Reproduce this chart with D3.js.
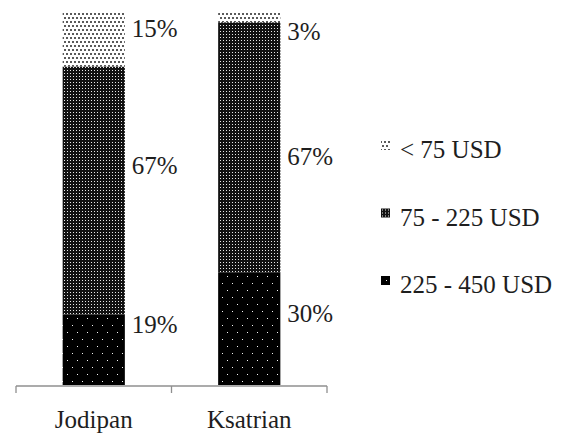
<!DOCTYPE html>
<html>
<head>
<meta charset="utf-8">
<script src="https://cdn.jsdelivr.net/npm/d3@7"></script>
<style>
  html, body { margin: 0; padding: 0; background: #fff; }
  svg { display: block; }
</style>
</head>
<body>
<svg id="chart" width="565" height="436"></svg>
<script>
// Monthly spending groups per village (shares in percent)
const categories = ["Jodipan", "Ksatrian"];
const seriesNames = ["< 75 USD", "75 - 225 USD", "225 - 450 USD"];
const under75 = [15, 3];
const from75to225 = [67, 67];
const from225to450 = [19, 30];

const values = {
  "< 75 USD": under75,
  "75 - 225 USD": from75to225,
  "225 - 450 USD": from225to450
};

const rows = categories.map((c, i) => {
  const r = { category: c };
  seriesNames.forEach(s => { r[s] = values[s][i]; });
  return r;
});

const W = 565, H = 436;
const FONT = '"Liberation Serif"';
const FONT_SIZE = "25px";
const TEXT_COLOR = "#1e1e1e";

const svg = d3.select("#chart");
svg.append("rect").attr("width", W).attr("height", H).attr("fill", "#fff");

function styleText(sel) {
  return sel.style("font-family", FONT).style("font-size", FONT_SIZE).style("fill", TEXT_COLOR);
}

// Fill patterns: light dots, dense dark dots, black with sparse white dots
const defs = svg.append("defs");
const patternSpecs = {
  "< 75 USD": { w: 4, h: 8, bg: "#fff", dot: "#5a5a5a", size: 2, dots: [[0, 1], [2, 5]] },
  "75 - 225 USD": { w: 3, h: 3, bg: "#111", dot: "#e8e8e8", size: 1, dots: [[1, 1]] },
  "225 - 450 USD": { w: 10, h: 14, bg: "#000", dot: "#f4f4f4", size: 1, dots: [[2, 3], [7, 10]] }
};
function makePattern(id, spec, ox, oy) {
  const p = defs.append("pattern")
    .attr("id", id)
    .attr("patternUnits", "userSpaceOnUse")
    .attr("x", ox).attr("y", oy)
    .attr("width", spec.w).attr("height", spec.h);
  p.append("rect").attr("width", spec.w).attr("height", spec.h).attr("fill", spec.bg);
  spec.dots.forEach(([dx, dy]) => {
    p.append("rect").attr("x", dx).attr("y", dy)
      .attr("width", spec.size).attr("height", spec.size).attr("fill", spec.dot);
  });
}
seriesNames.forEach((s, i) => makePattern("pat" + i, patternSpecs[s], 0, 0));

// Scales
const x = d3.scaleBand().domain(categories).range([16, 327]).paddingInner(0.6).paddingOuter(0.3);
const y = d3.scaleLinear().domain([0, 1]).range([385, 11]);

// 100% stacked layout, bottom segment is the highest spending group
const stackKeys = seriesNames.slice().reverse();
const stacked = d3.stack().keys(stackKeys).offset(d3.stackOffsetExpand)(rows);

const g = svg.append("g");
stacked.forEach(layer => {
  const idx = seriesNames.indexOf(layer.key);
  g.selectAll(null).data(layer).join("rect")
    .attr("x", d => x(d.data.category))
    .attr("width", x.bandwidth())
    .attr("y", d => y(d[1]))
    .attr("height", d => y(d[0]) - y(d[1]))
    .attr("fill", `url(#pat${idx})`);
});

// Category axis
const axisY = 386;
const axisG = svg.append("g").attr("transform", `translate(0,${axisY})`);
const tickXs = [x.range()[0], ...categories.slice(1).map(c => x(c) - x.step() * x.paddingInner() / 2), x.range()[1]];
axisG.append("line").attr("x1", x.range()[0]).attr("x2", x.range()[1])
  .attr("stroke", "#8f8f8f").attr("stroke-width", 1.3);
axisG.selectAll(".tick").data(tickXs).join("line")
  .attr("x1", d => d).attr("x2", d => d).attr("y1", 0).attr("y2", 7)
  .attr("stroke", "#8f8f8f").attr("stroke-width", 1.3);
styleText(axisG.selectAll(".lbl").data(categories).join("text")
  .attr("x", d => x(d) + x.bandwidth() / 2)
  .attr("y", 42)
  .attr("text-anchor", "middle"))
  .text(d => d);

// Data labels set beside each bar (anchor given as a share of the bar height)
const labelAnchors = {
  "Jodipan": [0.953, 0.588, 0.163],
  "Ksatrian": [0.945, 0.612, 0.191]
};
categories.forEach((c, ci) => {
  seriesNames.forEach((s, si) => {
    styleText(svg.append("text")
      .attr("x", x(c) + x.bandwidth() + 7)
      .attr("y", y(labelAnchors[c][si]))
      .attr("dy", "0.35em"))
      .text(values[s][ci] + "%");
  });
});

// Legend
const legend = svg.append("g").attr("transform", "translate(381,0)");
const legendBaselines = [158, 225.5, 293];
seriesNames.forEach((s, i) => {
  const by = legendBaselines[i];
  const sy = by - 17;
  const spec = patternSpecs[s];
  // swatch pattern anchored so a dot sits near the swatch centre
  const [dx, dy] = spec.dots[0];
  makePattern("sw" + i, spec, 381 + 4 - dx, sy + 4 - dy);
  legend.append("rect")
    .attr("x", 0).attr("y", sy).attr("width", 9).attr("height", 9)
    .attr("fill", `url(#sw${i})`);
  styleText(legend.append("text")
    .attr("x", 19).attr("y", by))
    .text(s);
});
</script>
</body>
</html>
